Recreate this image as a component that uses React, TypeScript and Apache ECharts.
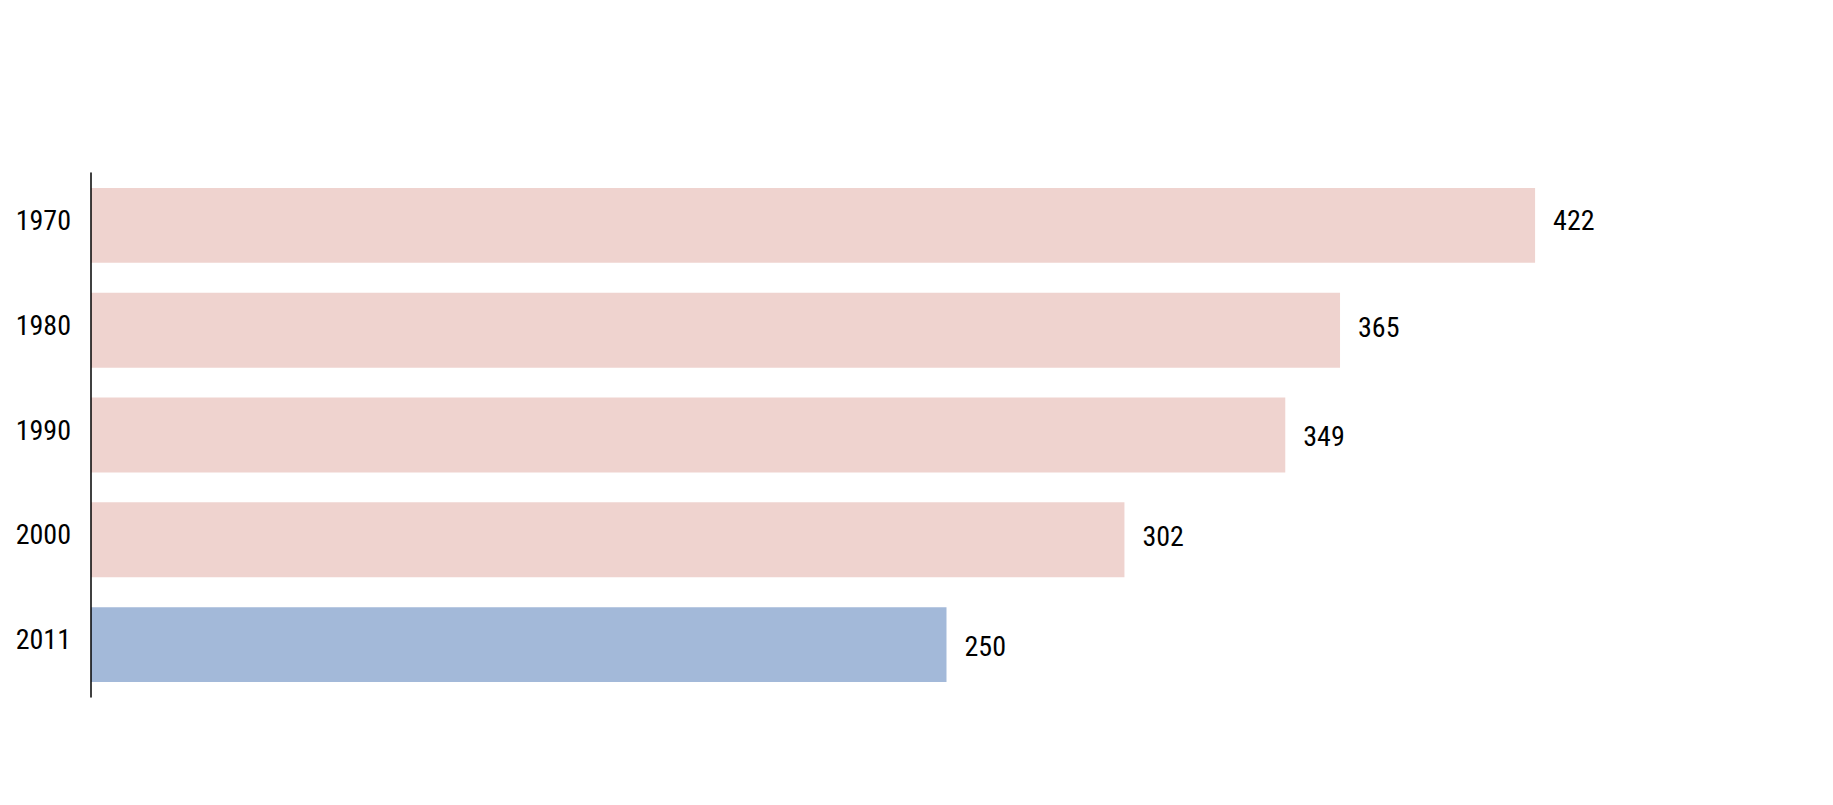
import React, { useEffect, useRef } from "react";
import * as echarts from "echarts";

const categories = ["1970", "1980", "1990", "2000", "2011"];
const values = [422, 365, 349, 302, 250];
const barColors = ["#efd3cf", "#efd3cf", "#efd3cf", "#efd3cf", "#a3b9d9"];
// small vertical nudges of the value labels, as in the original
const labelNudge = [-5, -2.5, 1, -3.5, 1.5];

const FONT = "'Roboto Condensed', 'Liberation Sans', sans-serif";

export default function App() {
  const ref = useRef<HTMLDivElement>(null);
  useEffect(() => {
    if (!ref.current) return;
    const chart = echarts.init(ref.current, undefined, { renderer: "svg" });
    chart.setOption({
      animation: false,
      backgroundColor: "#ffffff",
      grid: { left: 91, right: 31, top: 173, bottom: 108, containLabel: false },
      xAxis: {
        type: "value",
        min: 0,
        max: 500,
        show: false,
      },
      yAxis: {
        type: "category",
        data: categories,
        inverse: true,
        z: 5,
        axisLine: { show: true, lineStyle: { color: "#000000", width: 1.5 } },
        axisTick: { show: false },
        axisLabel: {
          margin: 20,
          color: "#000000",
          fontFamily: FONT,
          fontSize: 28,
          lineHeight: 10,
          verticalAlign: "bottom",
        },
        splitLine: { show: false },
      },
      series: [
        {
          type: "bar",
          data: values.map((v, i) => ({
            value: v,
            itemStyle: { color: barColors[i] },
            label: { offset: [0, labelNudge[i]] },
          })),
          barCategoryGap: "28.5%",
          label: {
            show: true,
            position: "right",
            distance: 18,
            color: "#000000",
            fontFamily: FONT,
            fontSize: 28,
          },
        },
      ],
    });
    return () => chart.dispose();
  }, []);
  return <div ref={ref} style={{ width: 1833, height: 805, position: "absolute", left: 0, top: 0 }} />;
}
